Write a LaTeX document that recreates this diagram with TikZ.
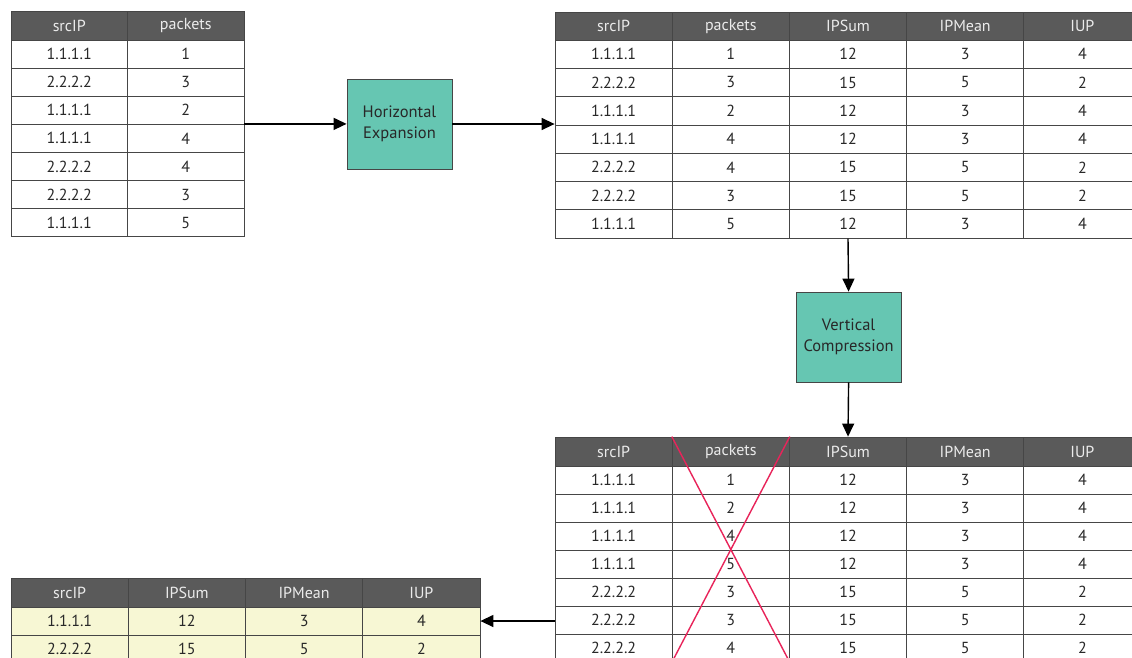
\documentclass[tikz,border=0pt]{standalone}
\usepackage{fontspec}
\setmainfont{PT Sans}
\usetikzlibrary{arrows.meta}
\definecolor{hdrgray}{RGB}{90,90,90}
\definecolor{hdrtext}{RGB}{235,235,235}
\definecolor{linegray}{RGB}{70,70,70}
\definecolor{celltext}{RGB}{40,40,40}
\definecolor{teal}{RGB}{102,198,178}
\definecolor{cream}{RGB}{247,247,212}
\definecolor{xred}{RGB}{232,36,90}
\tikzset{
  cell/.style={draw=linegray, line width=0.8pt, inner sep=0pt, text=celltext, font=\fontsize{16}{18}\selectfont, minimum width=117.2pt, minimum height=28pt},
  hdr/.style={cell, fill=hdrgray, text=hdrtext, minimum height=29pt},
  ycell/.style={cell, fill=cream},
  procbox/.style={draw=linegray, line width=0.8pt, fill=teal, text=celltext, font=\fontsize{16.5}{21}\selectfont, align=center, minimum width=105pt, minimum height=90pt, inner sep=0pt},
  conn/.style={line width=1.4pt, draw=black, -{Triangle[length=13pt,width=12pt]}},
  cross/.style={line width=1.4pt, draw=xred}
}
\begin{document}
\begin{tikzpicture}[x=1pt,y=-1pt]
\clip (0,0) rectangle (1132,657);
\fill[white] (0,0) rectangle (1132,657);
% top-left table
\foreach \t [count=\i] in {srcIP,packets}
  \node[hdr, minimum width=116.5pt] (tl-0-\i) at ({11+116.5*(\i-0.5)},25.5) {\t};
\foreach \a/\b [count=\r] in {1.1.1.1/1,2.2.2.2/3,1.1.1.1/2,1.1.1.1/4,2.2.2.2/4,2.2.2.2/3,1.1.1.1/5}{
  \node[cell, minimum width=116.5pt, minimum height=28.1pt] (tl-\r-1) at (69.25,{40+28.1*(\r-0.5)}) {\a};
  \node[cell, minimum width=116.5pt, minimum height=28.1pt] (tl-\r-2) at (185.75,{40+28.1*(\r-0.5)}) {\b};
}
% top-right table
\foreach \t [count=\i] in {srcIP,packets,IPSum,IPMean,IUP}
  \node[hdr, minimum height=28pt] (tr-0-\i) at ({555+117.2*(\i-0.5)},26) {\t};
\foreach \a/\b/\c/\d/\e [count=\r] in {1.1.1.1/1/12/3/4,2.2.2.2/3/15/5/2,1.1.1.1/2/12/3/4,1.1.1.1/4/12/3/4,2.2.2.2/4/15/5/2,2.2.2.2/3/15/5/2,1.1.1.1/5/12/3/4}{
  \node[cell, minimum height=28.3pt] (tr-\r-1) at ({555+117.2*0.5},{40+28.3*(\r-0.5)}) {\a};
  \node[cell, minimum height=28.3pt] (tr-\r-2) at ({555+117.2*1.5},{40+28.3*(\r-0.5)}) {\b};
  \node[cell, minimum height=28.3pt] (tr-\r-3) at ({555+117.2*2.5},{40+28.3*(\r-0.5)}) {\c};
  \node[cell, minimum height=28.3pt] (tr-\r-4) at ({555+117.2*3.5},{40+28.3*(\r-0.5)}) {\d};
  \node[cell, minimum height=28.3pt] (tr-\r-5) at ({555+117.2*4.5},{40+28.3*(\r-0.5)}) {\e};
}
% bottom-right table
\foreach \t [count=\i] in {srcIP,packets,IPSum,IPMean,IUP}
  \node[hdr] (br-0-\i) at ({555+117.2*(\i-0.5)},451.5) {\t};
\foreach \a/\b/\c/\d/\e [count=\r] in {1.1.1.1/1/12/3/4,1.1.1.1/2/12/3/4,1.1.1.1/4/12/3/4,1.1.1.1/5/12/3/4,2.2.2.2/3/15/5/2,2.2.2.2/3/15/5/2,2.2.2.2/4/15/5/2}{
  \node[cell] (br-\r-1) at ({555+117.2*0.5},{466+28*(\r-0.5)}) {\a};
  \node[cell] (br-\r-2) at ({555+117.2*1.5},{466+28*(\r-0.5)}) {\b};
  \node[cell] (br-\r-3) at ({555+117.2*2.5},{466+28*(\r-0.5)}) {\c};
  \node[cell] (br-\r-4) at ({555+117.2*3.5},{466+28*(\r-0.5)}) {\d};
  \node[cell] (br-\r-5) at ({555+117.2*4.5},{466+28*(\r-0.5)}) {\e};
}
% bottom-left table
\foreach \t [count=\i] in {srcIP,IPSum,IPMean,IUP}
  \node[hdr, minimum width=117.25pt] (bl-0-\i) at ({11+117.25*(\i-0.5)},592.5) {\t};
\foreach \a/\b/\c/\d [count=\r] in {1.1.1.1/12/3/4,2.2.2.2/15/5/2}{
  \node[ycell, minimum width=117.25pt] (bl-\r-1) at ({11+117.25*0.5},{607+28*(\r-0.5)}) {\a};
  \node[ycell, minimum width=117.25pt] (bl-\r-2) at ({11+117.25*1.5},{607+28*(\r-0.5)}) {\b};
  \node[ycell, minimum width=117.25pt] (bl-\r-3) at ({11+117.25*2.5},{607+28*(\r-0.5)}) {\c};
  \node[ycell, minimum width=117.25pt] (bl-\r-4) at ({11+117.25*3.5},{607+28*(\r-0.5)}) {\d};
}
% process boxes
\node[procbox] (hx) at (399.5,124) {Horizontal\\Expansion};
\node[procbox] (vc) at (848.6,337) {Vertical\\Compression};
% connectors
\draw[conn] (tl-4-2.north east) -- (tl-4-2.north east -| hx.west);
\draw[conn] (hx.east) -- (hx.east -| tr-4-1.west);
\draw[conn] (tr-7-3.south) -- (vc.north);
\draw[conn] (vc.south) -- (br-0-3.north);
\draw[conn] (bl-1-4.east -| br-6-1.west) -- (bl-1-4.east);
% red cross over packets column
\draw[cross] (br-0-2.north west) -- (br-7-2.south east);
\draw[cross] (br-0-2.north east) -- (br-7-2.south west);
\end{tikzpicture}
\end{document}
